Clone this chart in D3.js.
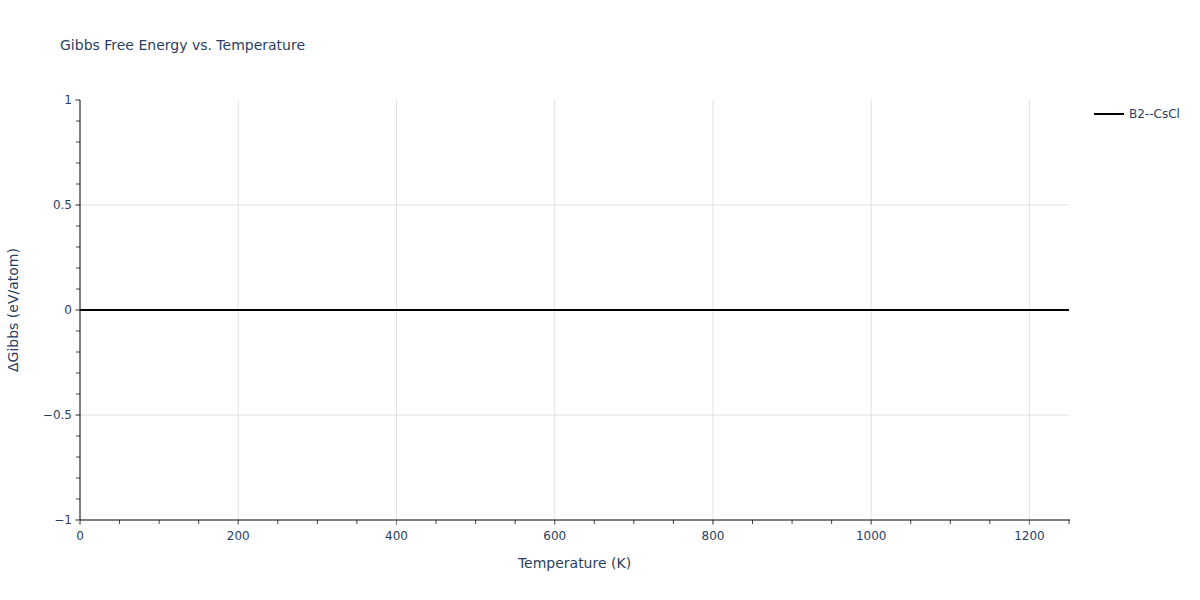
<!DOCTYPE html>
<html><head><meta charset="utf-8">
<script src="https://cdn.jsdelivr.net/npm/d3@7"></script>
<style>body{margin:0;background:#fff}svg{font-family:"DejaVu Sans",Verdana,sans-serif}</style>
</head><body><svg id="c" width="1200" height="600"></svg>
<script>
const temperatures = [0, 100, 200, 300, 400, 500, 600, 700, 800, 900, 1000, 1100, 1200, 1250];
const deltaGibbs = [0, 0, 0, 0, 0, 0, 0, 0, 0, 0, 0, 0, 0, 0];
const seriesName = "B2--CsCl";
const xTicks = [0, 200, 400, 600, 800, 1000, 1200];
const yTicks = [-1, -0.5, 0, 0.5, 1];
const yTickLabels = ["\u22121", "\u22120.5", "0", "0.5", "1"];

const svg = d3.select("#c");
const L = 80, R = 1069, T = 100, B = 520;
const x = d3.scaleLinear().domain([0, 1250]).range([L, R]);
const y = d3.scaleLinear().domain([-1, 1]).range([B, T]);
const txt = "#2a3f5f";

// grid
svg.append("g").selectAll("line").data(xTicks.filter(d => d > 0)).join("line")
  .attr("x1", d => x(d)).attr("x2", d => x(d)).attr("y1", T).attr("y2", B)
  .attr("stroke", "#e1e1e1").attr("stroke-width", 1);
svg.append("g").selectAll("line").data(yTicks.filter(d => d > -1 && d < 1)).join("line")
  .attr("y1", d => y(d)).attr("y2", d => y(d)).attr("x1", L).attr("x2", R)
  .attr("stroke", "#e1e1e1").attr("stroke-width", 1);

// minor ticks
const xMinor = d3.range(0, 1251, 50);
const yMinor = d3.range(-10, 11).map(d => d / 10);
svg.append("g").selectAll("line").data(xMinor).join("line")
  .attr("x1", d => x(d)).attr("x2", d => x(d)).attr("y1", B).attr("y2", B + 4)
  .attr("stroke", "#444").attr("stroke-width", 1);
svg.append("g").selectAll("line").data(yMinor).join("line")
  .attr("y1", d => y(d)).attr("y2", d => y(d)).attr("x1", L - 4).attr("x2", L)
  .attr("stroke", "#444").attr("stroke-width", 1);

// major ticks
svg.append("g").selectAll("line").data(xTicks).join("line")
  .attr("x1", d => x(d)).attr("x2", d => x(d)).attr("y1", B).attr("y2", B + 5)
  .attr("stroke", "#888").attr("stroke-width", 1);
svg.append("g").selectAll("line").data(yTicks).join("line")
  .attr("y1", d => y(d)).attr("y2", d => y(d)).attr("x1", L - 5).attr("x2", L)
  .attr("stroke", "#888").attr("stroke-width", 1);

// axis lines
svg.append("line").attr("x1", L).attr("x2", R + 1).attr("y1", B).attr("y2", B).attr("stroke", "#000").attr("stroke-width", 1);
svg.append("line").attr("x1", L).attr("x2", L).attr("y1", T).attr("y2", B).attr("stroke", "#000").attr("stroke-width", 1);

// tick labels
svg.append("g").selectAll("text").data(xTicks).join("text")
  .attr("x", d => x(d)).attr("y", B + 20).attr("text-anchor", "middle")
  .attr("font-size", 12).attr("fill", txt).text(d => d);
svg.append("g").selectAll("text").data(yTicks).join("text")
  .attr("x", L - 8).attr("y", d => y(d) + 4).attr("text-anchor", "end")
  .attr("font-size", 12).attr("fill", txt).text((d, i) => yTickLabels[i]);

// line
const line = d3.line().x((d, i) => x(temperatures[i])).y(d => y(d));
svg.append("path").datum(deltaGibbs).attr("d", line)
  .attr("fill", "none").attr("stroke", "#000").attr("stroke-width", 2);

// titles
svg.append("text").attr("x", 60).attr("y", 50).attr("font-size", 14).attr("fill", txt)
  .text("Gibbs Free Energy vs. Temperature");
svg.append("text").attr("x", (L + R) / 2).attr("y", 568).attr("text-anchor", "middle")
  .attr("font-size", 14).attr("fill", txt).text("Temperature (K)");
svg.append("text").attr("transform", `translate(18,${(T + B) / 2}) rotate(-90)`)
  .attr("text-anchor", "middle").attr("font-size", 14).attr("fill", txt).text("\u0394Gibbs (eV/atom)");

// legend
svg.append("line").attr("x1", 1094).attr("x2", 1124).attr("y1", 114).attr("y2", 114)
  .attr("stroke", "#000").attr("stroke-width", 2);
svg.append("text").attr("x", 1129).attr("y", 118).attr("font-size", 12).attr("fill", txt).text(seriesName);
</script></body></html>
